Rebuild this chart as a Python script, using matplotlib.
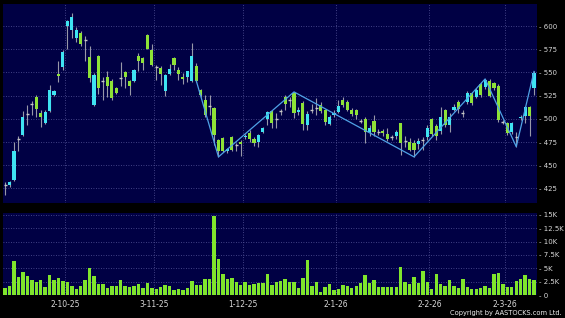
import matplotlib
matplotlib.use("Agg")
import matplotlib.pyplot as plt
import numpy as np

# ---- data (index = trading day) ----
opens = [429,429,434,478,483,505,516,524,506,495,508,526,548,556,600,596,587,593,585,567,
         515,568,541,545,541,533,544,550,541,541,568,566,590,574,556,555,530,548,566,553,
         545,545,541,557,531,520,514,512,477,479,465,480,472,475,480,485,478,475,486,500,
         508,500,508,523,520,528,507,517,493,510,512,515,510,494,504,507,520,518,510,510,
         498,500,486,498,486,487,484,480,481,495,476,475,474,473,477,480,500,492,487,509,
         493,510,518,506,518,528,524,538,534,541,539,535,497,496,486,480,501,503,513,533]
highs = [432,433,475,481,508,515,519,526,509,509,536,531,562,574,606,614,599,595,589,578,
         549,569,545,551,543,534,561,552,542,554,571,567,591,581,558,557,548,559,567,556,
         549,552,582,560,532,526,526,513,478,480,469,481,474,477,484,488,480,484,491,508,
         509,506,511,526,524,529,513,519,508,516,522,518,511,504,509,520,524,520,512,511,
         500,502,493,504,489,489,490,483,488,496,482,479,477,479,480,493,501,494,513,511,
         506,516,520,510,530,529,533,540,543,543,540,537,499,497,497,486,504,514,514,552]
lows = [418,427,433,465,481,493,504,502,491,494,507,525,540,553,575,587,583,578,562,540,
        514,527,520,524,520,527,535,533,526,540,551,553,575,557,542,536,525,547,553,542,
        538,540,540,540,524,502,504,472,459,464,463,465,465,460,478,475,471,470,485,493,
        490,490,504,510,513,501,504,488,488,506,504,506,493,493,502,506,513,508,503,500,
        495,474,481,481,483,482,476,477,478,461,470,465,459,468,466,477,481,477,484,491,
        486,508,506,502,516,515,522,524,532,523,531,497,494,483,484,470,499,495,481,526]
closes = [429,432,465,478,502,505,516,511,502,507,531,530,546,572,605,610,596,581,585,544,
          547,533,541,535,522,528,544,545,535,553,562,560,575,558,556,548,547,554,558,548,
          543,551,568,541,526,504,514,483,465,465,468,466,472,473,482,478,474,483,490,507,
          496,500,508,516,520,506,510,494,505,510,512,508,497,502,506,514,515,510,505,504,
          498,486,490,486,486,485,478,480,486,474,476,466,466,476,477,490,484,482,502,493,
          502,513,511,506,528,517,531,526,542,525,533,499,497,485,496,480,502,513,503,549]
volume_k = [1.43,1.74,6.3,3.35,4.34,3.53,2.85,2.48,2.9,1.6,3.7,2.85,3.2,2.6,2.5,1.67,1.24,1.67,2.85,5.0,
            3.53,2.1,2.17,1.36,1.67,1.74,2.8,1.8,1.55,1.74,2.17,1.43,2.36,1.3,1.18,1.6,2.0,1.67,0.99,1.24,
            0.99,1.43,2.6,1.86,1.92,2.98,2.98,14.7,6.7,4.03,2.98,3.29,2.54,2.0,2.48,1.92,2.17,2.36,2.3,3.9,
            1.92,2.54,2.6,2.98,2.54,2.54,1.36,3.2,6.5,1.74,2.4,0.56,1.49,2.1,0.93,1.1,1.92,1.8,1.43,1.67,
            2.36,3.7,2.3,2.9,1.49,1.6,1.49,1.49,1.6,5.3,2.48,2.1,3.35,2.23,4.5,2.4,1.24,3.97,2.1,1.8,
            2.85,1.8,1.43,3.1,1.6,1.24,1.18,1.3,1.74,1.36,3.97,4.1,2.05,1.49,1.49,2.6,3.1,3.7,3.04,2.9]
zigzag_idx = [43, 48, 65, 92, 108, 115, 119]
zigzag_val = [541, 459, 529, 459, 543, 470, 551]
date_idx = [13, 33, 53, 74, 95, 112]
date_labels = ["2-10-25", "3-11-25", "1-12-25", "2-1-26", "2-2-26", "2-3-26"]
price_ticks = [425, 450, 475, 500, 525, 550, 575, 600]
vol_ticks = [0, 2.5, 5, 7.5, 10, 12.5, 15]
vol_labels = ["0", "2.5K", "5K", "7.5K", "10K", "12.5K", "15K"]

# ---- styling ----
BG = "#000044"
UP = "#3fe3f2"
DOWN = "#8ee237"
DOJI = "#c8c8c8"
WICK = "#9898a8"
VOLC = "#80e52c"
GRID = "#56569a"
TXT = "#d8d8d8"
FS = 5.0

fig = plt.figure(figsize=(5.65, 3.18), dpi=100, facecolor="black")
axp = fig.add_axes([0.0048, 0.3616, 0.9451, 0.6258], facecolor=BG)
axv = fig.add_axes([0.0048, 0.0714, 0.9451, 0.2597], facecolor=BG)

x = np.arange(len(opens))
o = np.array(opens, float); h = np.array(highs, float)
l = np.array(lows, float); c = np.array(closes, float)

grid_x = [d + 0.45 for d in date_idx]
for ax in (axp, axv):
    for gx in grid_x:
        ax.axvline(gx, color=GRID, lw=0.6, ls=(0, (1, 2)), zorder=0)
    for s in ax.spines.values():
        s.set_visible(False)
    ax.set_xlim(-0.55, 119.6)
    ax.tick_params(axis="x", length=0, labelbottom=False)
    ax.yaxis.tick_right()
    ax.tick_params(axis="y", length=0, pad=2, labelsize=FS, labelcolor=TXT)

for p in price_ticks:
    axp.axhline(p, color=GRID, lw=0.6, ls=(0, (1, 2)), zorder=0)
for v in vol_ticks[1:]:
    axv.axhline(v, color=GRID, lw=0.6, ls=(0, (1, 2)), zorder=0)

# candles
axp.vlines(x, l, h, color=WICK, lw=0.8, zorder=2)
up = c > o
dn = c < o
dj = c == o
bw = 0.7
axp.bar(x[up], (c - o)[up], bottom=o[up], width=bw, color=UP, lw=0, zorder=3)
axp.bar(x[dn], (o - c)[dn], bottom=c[dn], width=bw, color=DOWN, lw=0, zorder=3)
axp.hlines(c[dj], x[dj] - bw / 2, x[dj] + bw / 2, color=DOJI, lw=1.0, zorder=3)

axp.plot(zigzag_idx, zigzag_val, color="#4fa2e6", lw=0.9, zorder=4)

axp.set_ylim(409.3, 623.7)
axp.set_yticks(price_ticks)
axp.set_yticklabels(["- %d" % p for p in price_ticks])

axv.bar(x, volume_k, width=0.76, color=VOLC, lw=0, zorder=2)
axv.set_ylim(0, 15.37)
axv.set_yticks(vol_ticks)
axv.set_yticklabels(["- " + s for s in vol_labels])

for gx, lab in zip(grid_x, date_labels):
    axv.text(gx, -0.115, lab, transform=axv.get_xaxis_transform(), ha="center",
             va="center", fontsize=FS + 0.5, color=TXT)

fig.text(0.995, 0.015, "Copyright by AASTOCKS.com Ltd.", ha="right", va="center",
         fontsize=4.8, color="#f0f0f0")

fig.savefig("out.png", dpi=100, facecolor="black")
